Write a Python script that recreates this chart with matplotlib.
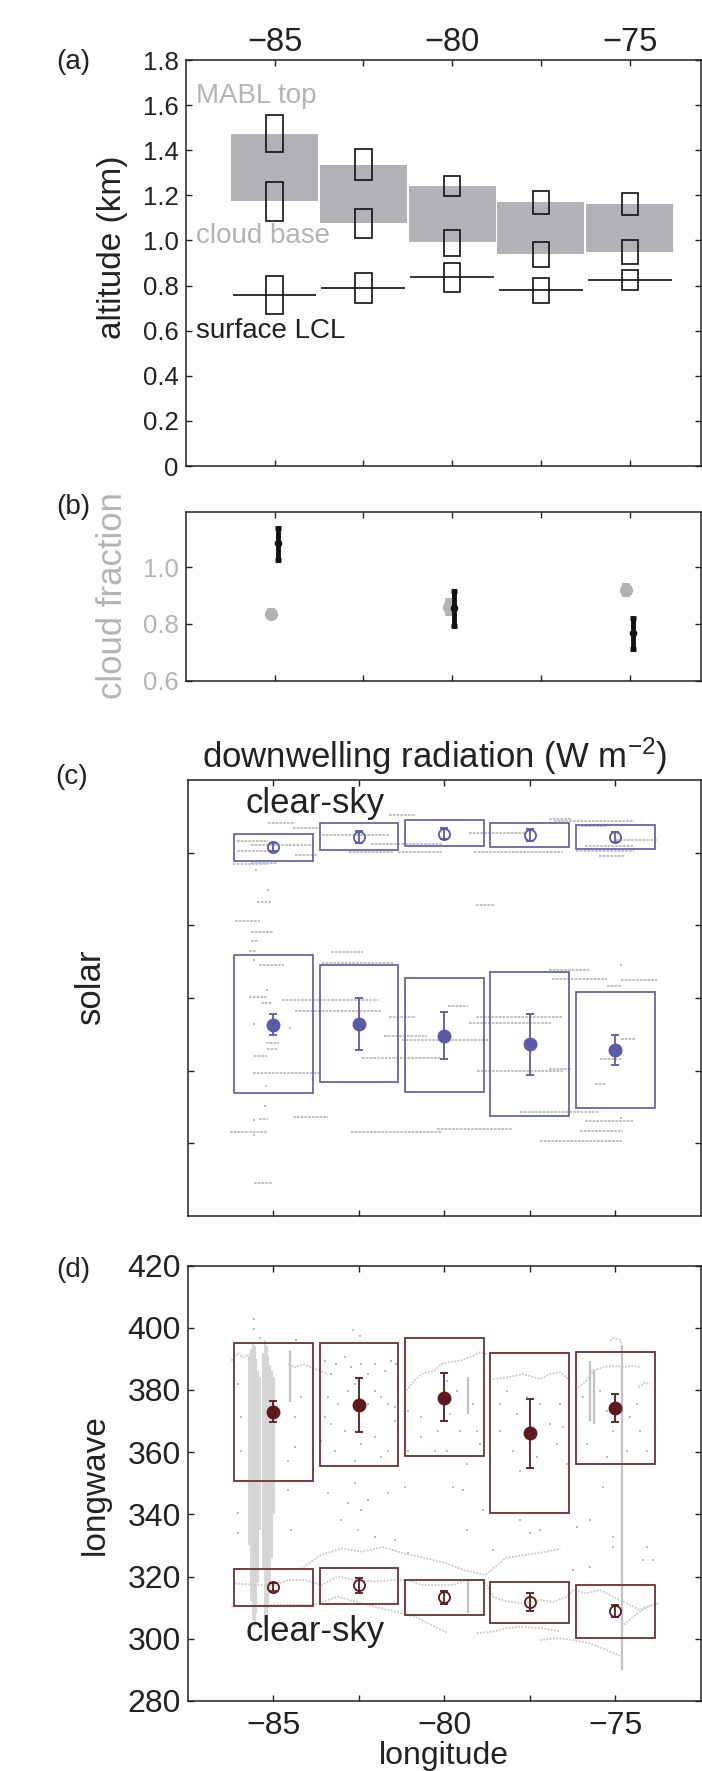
import matplotlib
matplotlib.use('Agg')
import matplotlib.pyplot as plt

plt.rcParams['font.family'] = ['Liberation Sans', 'DejaVu Sans']
plt.rcParams['mathtext.fontset'] = 'custom'
plt.rcParams['mathtext.rm'] = 'Liberation Sans'
plt.rcParams['mathtext.it'] = 'Liberation Sans:italic'
plt.rcParams['mathtext.bf'] = 'Liberation Sans:bold'

lon = [-85, -82.5, -80, -77.5, -75]

# (a) altitude (km)
layer_bot = [1.175, 1.077, 0.992, 0.941, 0.950]
layer_top = [1.470, 1.334, 1.241, 1.169, 1.160]
mabl_lo = [1.391, 1.266, 1.198, 1.119, 1.114]
mabl_hi = [1.555, 1.404, 1.287, 1.221, 1.210]
base_lo = [1.086, 1.012, 0.929, 0.884, 0.894]
base_hi = [1.259, 1.139, 1.048, 0.995, 1.002]
lcl_lo = [0.674, 0.721, 0.770, 0.723, 0.779]
lcl_hi = [0.844, 0.856, 0.898, 0.835, 0.869]
lcl_med = [0.760, 0.789, 0.836, 0.779, 0.825]

# (b) cloud fraction
cf_gray_lon = [-85.11, -80.1, -75.1]
cf_gray = [0.835, 0.860, 0.918]
cf_gray_err = [0.021, 0.032, 0.025]
cf_black_lon = [-84.9, -79.95, -74.91]
cf_black = [1.085, 0.855, 0.767]
cf_black_lo = [1.026, 0.791, 0.712]
cf_black_hi = [1.138, 0.916, 0.822]

# (c) downwelling solar
sw_clr_lo = [244.1, 251.7, 254.5, 253.8, 252.4]
sw_clr_hi = [263.2, 270.3, 272.4, 270.6, 269.0]
sw_clr_mean = [254.0, 261.1, 263.2, 262.3, 260.7]
sw_clr_err = [3.0, 4.1, 3.8, 4.0, 3.4]
sw_all_lo = [84.4, 92.0, 85.1, 68.7, 74.3]
sw_all_hi = [179.3, 172.4, 163.7, 167.6, 154.3]
sw_all_mean = [131.7, 132.2, 124.1, 118.2, 114.3]
sw_all_elo = [124.4, 114.5, 108.3, 97.0, 103.9]
sw_all_ehi = [139.3, 150.1, 140.2, 139.3, 124.8]

# raw solar samples (daily means drawn as short segments)
sw_seg_x0 = [-81.63, -85.15, -84.43, -76.93, -76.80, -76.01, -86.06, -85.67, -86.06, -84.37,
             -85.67, -86.19, -82.80, -81.36, -83.58, -82.15, -79.28, -79.14, -76.14, -75.49,
             -74.97, -75.88,
             -85.48, -86.13, -85.67, -85.67, -85.71, -85.41, -79.08, -83.32, -83.58, -85.71,
             -85.37, -84.76, -84.37, -81.63, -81.76, -81.23, -82.41, -79.08, -79.28, -79.88,
             -76.95, -76.86, -74.84, -75.23, -74.84, -75.46, -75.59, -85.61, -85.58, -85.22,
             -85.19, -79.04, -76.95, -84.43, -86.26, -82.73, -80.22, -77.80, -75.88, -76.04,
             -77.21, -85.58, -85.41]
sw_seg_x1 = [-80.84, -84.37, -83.71, -76.27, -74.45, -75.23, -85.15, -83.84, -84.89, -83.71,
             -84.89, -85.15, -81.49, -80.06, -81.63, -80.06, -77.58, -76.53, -74.45, -74.71,
             -73.79, -74.45,
             -85.08, -85.38, -85.02, -85.44, -85.50, -84.69, -78.56, -82.38, -81.49, -85.18,
             -85.05, -81.95, -81.86, -80.82, -80.52, -78.69, -80.12, -76.57, -76.86, -79.30,
             -75.78, -75.23, -73.79, -74.84, -74.42, -74.84, -75.27, -83.67, -85.18, -84.85,
             -84.86, -76.53, -76.27, -83.39, -85.18, -80.06, -78.03, -75.49, -74.45, -74.77,
             -74.80, -85.02, -85.15]
sw_seg_y = [275.9, 270.6, 267.1, 273.3, 271.7, 268.3, 257.9, 255.6, 251.0, 248.7,
            243.0, 242.5, 250.3, 250.3, 262.5, 256.3, 263.7, 250.3, 251.0, 248.0,
            258.6, 254.5,
            215.9, 203.0, 195.6, 189.0, 182.1, 172.6, 214.3, 181.6, 173.8, 150.6,
            146.4, 148.3, 140.9, 137.2, 123.5, 121.4, 108.5, 136.6, 132.9, 144.6,
            169.2, 163.0, 162.5, 158.6, 121.8, 108.0, 90.6, 98.2, 110.1, 119.3,
            114.7, 99.5, 101.2, 68.0, 57.9, 57.5, 59.5, 71.3, 65.5, 58.6,
            51.7, 22.3, 66.9]
sw_dot_x = [-85.19, -84.51, -85.57, -85.23, -85.24, -85.57, -85.58, -85.50, -85.15, -85.58,
            -74.84, -74.82]
sw_dot_y = [155.6, 129.4, 132.0, 89.4, 75.9, 66.0, 55.6, 238.4, 224.6, 175.9,
            172.9, 67.0]

# (d) downwelling longwave
lw_clr_lo = [310.5, 311.3, 307.8, 305.2, 300.4]
lw_clr_hi = [322.5, 322.8, 318.8, 318.4, 317.4]
lw_clr_mean = [316.6, 317.2, 313.3, 311.8, 309.0]
lw_clr_elo = [315.3, 314.6, 311.3, 309.0, 307.1]
lw_clr_ehi = [317.9, 319.6, 315.3, 314.6, 310.9]
lw_all_lo = [350.8, 355.5, 358.7, 340.5, 356.2]
lw_all_hi = [395.2, 395.0, 396.6, 391.8, 392.3]
lw_all_mean = [373.0, 375.2, 377.5, 366.1, 374.3]
lw_all_elo = [369.6, 366.5, 370.0, 355.0, 369.7]
lw_all_ehi = [376.5, 383.9, 385.4, 377.2, 378.6]

# raw longwave samples: stationary periods (vertical streaks)
lw_band_x = [-85.72, -85.65, -85.60, -85.55, -85.50, -85.45, -85.38, -85.30, -85.25, -85.20,
             -85.15, -85.10, -85.04, -84.97]
lw_band_top = [391.0, 393.0, 395.0, 394.0, 390.0, 386.0, 384.0, 392.0, 396.0, 394.0,
               391.0, 388.0, 386.0, 384.0]
lw_band_bot = [330.0, 312.0, 306.0, 304.0, 308.0, 318.0, 335.0, 322.0, 304.0, 306.0,
               310.0, 316.0, 326.0, 340.0]
lw_line_x = [-84.52, -79.32, -79.32, -75.74, -75.62, -74.81]
lw_line_top = [392.5, 384.0, 318.9, 389.4, 386.8, 394.2]
lw_line_bot = [376.0, 372.3, 308.2, 370.1, 369.2, 290.0]

# raw longwave samples: ship tracks
lw_tr1_x = [-86.23, -86.04, -85.89, -85.70]
lw_tr1_y = [389.4, 391.8, 390.5, 391.5]
lw_tr2_x = [-84.57, -84.38, -84.14, -83.89, -83.65, -83.40]
lw_tr2_y = [388.3, 387.3, 388.3, 387.3, 386.2, 385.1]
lw_tr3_x = [-81.11, -80.87, -80.67, -80.48, -80.28, -80.09, -79.89, -79.54, -79.15, -78.96, -78.76]
lw_tr3_y = [379.8, 383.0, 385.1, 385.7, 386.2, 388.3, 388.9, 389.4, 391.0, 392.1, 391.5]
lw_tr4_x = [-78.57, -78.18, -77.69, -77.20, -76.91, -76.62, -76.42, -76.32]
lw_tr4_y = [383.5, 384.0, 385.1, 383.5, 385.1, 385.7, 384.0, 383.0]
lw_tr5_x = [-76.08, -75.84, -75.64, -75.35, -75.06, -74.76, -74.47, -74.28]
lw_tr5_y = [380.8, 383.0, 386.2, 387.3, 387.8, 387.3, 387.8, 387.3]
lw_tr6_x = [-74.32, -74.13, -73.98]
lw_tr6_y = [380.8, 382.4, 381.9]
lw_hook_x = [-75.15, -75.06, -74.86, -74.81]
lw_hook_y = [395.8, 396.7, 396.1, 394.2]
lw_ctr1_x = [-84.2, -83.6, -83.0, -82.4, -81.8, -81.2, -80.6, -80.0, -79.4, -78.8, -78.2, -77.6, -77.0, -76.6]
lw_ctr1_y = [322.5, 327.0, 329.0, 328.0, 329.5, 327.5, 326.0, 324.5, 322.0, 320.5, 326.0, 327.0, 328.0, 329.0]
lw_ctr2_x = [-86.13, -85.55, -84.96, -84.57, -84.09, -83.60, -83.11, -82.62, -82.04, -81.45, -81.06,
             -80.67, -80.09, -79.74, -79.35, -78.86, -78.57, -78.18, -77.69, -77.20, -76.81, -76.42,
             -76.23, -75.84, -75.45, -75.06, -74.67, -74.28, -73.89]
lw_ctr2_y = [317.8, 317.3, 317.3, 318.9, 318.9, 317.3, 320.0, 318.9, 318.4, 318.9, 318.9,
             317.3, 317.3, 317.3, 318.9, 318.9, 313.5, 312.0, 311.4, 312.5, 311.9, 313.5,
             315.7, 314.6, 315.7, 313.5, 311.4, 309.3, 310.9]
lw_ctr3_x = [-86.23, -85.06, -83.86, -83.11, -82.43, -81.65, -80.87, -80.28, -79.89]
lw_ctr3_y = [310.3, 310.9, 310.9, 313.5, 311.4, 309.3, 307.1, 303.9, 301.8]
lw_ctr4_x = [-79.05, -78.57, -78.18, -77.79, -77.20, -76.81, -76.62]
lw_ctr4_y = [301.8, 302.3, 303.4, 303.9, 303.4, 302.8, 302.3]
lw_ctr5_x = [-77.20, -76.71, -76.23, -75.74, -75.25, -74.81]
lw_ctr5_y = [299.6, 300.2, 299.6, 298.5, 296.4, 294.3]
lw_ctr6_x = [-74.81, -74.47, -74.08, -73.74]
lw_ctr6_y = [303.9, 307.1, 310.3, 311.4]

# raw longwave samples: scattered
lw_dot_x = [-83.50, -83.31, -83.16, -82.92, -82.72, -82.43, -82.23, -82.04, -81.75, -81.55, -81.40,
            -83.40, -83.11, -82.82, -82.62, -82.23, -82.04, -81.84, -81.65, -81.45, -83.31, -82.92,
            -82.43, -82.04, -81.65, -83.21, -82.62, -81.84, -81.45, -83.50, -83.60, -81.06, -80.67,
            -80.19, -80.67, -81.06, -80.28, -86.04, -85.94, -84.38, -84.38, -84.57, -85.94, -84.18,
            -79.93, -79.64, -79.83, -79.54, -79.15, -79.05, -78.96, -79.93, -79.35, -78.37, -78.18,
            -77.88, -77.59, -77.20, -76.91, -76.62, -76.52, -78.37, -77.98, -77.30, -76.71, -76.42,
            -77.79, -75.93, -75.45, -75.25, -75.06, -74.57, -74.37, -74.28, -74.67, -74.08, -75.84,
            -75.25,
            -83.40, -83.01, -82.82, -82.62, -82.53, -82.43, -82.23, -82.04, -81.65, -81.45, -81.16,
            -81.06, -86.04, -86.04, -84.48, -84.57, -79.74, -79.44, -79.35, -78.86, -78.57, -77.79,
            -77.49, -77.20, -76.13, -75.74, -75.35, -75.06, -74.08, -73.89, -74.18, -75.06, -75.74,
            -76.23, -85.58, -85.57, -85.40, -84.34, -82.66, -82.47]
lw_dot_y = [389.4, 385.1, 388.3, 390.5, 387.3, 388.3, 385.1, 388.3, 386.2, 389.4, 388.3,
            377.6, 375.5, 379.8, 381.9, 375.5, 379.8, 377.6, 375.5, 374.4, 369.1, 366.9,
            362.6, 364.8, 360.5, 360.5, 357.3, 358.3, 370.1, 371.2, 363.7, 373.3, 371.2,
            366.9, 364.8, 360.5, 360.5, 381.9, 371.2, 371.2, 361.5, 357.3, 360.5, 377.6,
            383.0, 379.8, 372.3, 366.9, 375.5, 366.9, 362.6, 360.5, 356.2, 375.5, 379.8,
            372.3, 377.6, 375.5, 369.1, 375.5, 368.0, 366.9, 360.5, 358.3, 362.6, 356.2,
            354.0, 377.6, 379.8, 373.3, 366.9, 371.2, 375.5, 366.9, 360.5, 360.5, 362.6,
            358.3,
            346.8, 338.2, 343.5, 350.0, 335.0, 341.4, 344.6, 332.8, 346.8, 331.8, 348.9,
            327.5, 340.3, 333.9, 335.0, 347.8, 348.9, 347.8, 335.0, 341.4, 328.5, 338.2,
            333.9, 335.0, 336.0, 338.2, 348.9, 332.8, 329.6, 325.3, 325.3, 329.6, 323.2,
            322.1, 402.7, 399.6, 396.6, 396.2, 399.3, 397.4]

W, H = 702, 1771
fig = plt.figure(figsize=(W / 100, H / 100), dpi=100)


def rect(l, t, r, b):
    return [l / W, 1 - b / H, (r - l) / W, (b - t) / H]


def ftext(x, y, s, **kw):
    fig.text(x / W, 1 - y / H, s, **kw)


gray_box = '#b1b2b5'
gray_txt = '#b4b4b6'
raw_gray = '#bdbdbd'
blue = '#5a5aa6'
dred = '#5c1a1c'
bred = '#6e3030'
ink = '#222222'

ax_a = fig.add_axes(rect(185.8, 60, 700.7, 466))
ax_b = fig.add_axes(rect(185.8, 511.7, 700.7, 680.7))
ax_c = fig.add_axes(rect(188, 780.3, 700.7, 1215.7))
ax_d = fig.add_axes(rect(188, 1265.5, 700.7, 1701))

for ax in (ax_a, ax_b, ax_c, ax_d):
    for sp in ax.spines.values():
        sp.set_linewidth(1.1)
        sp.set_color(ink)
    ax.tick_params(direction='in', top=True, right=True, length=4, width=1, color=ink)
    ax.set_xticks([-85, -82.5, -80, -77.5, -75])

# ---- (a)
ax_a.bar(lon, [t - b for t, b in zip(layer_top, layer_bot)], width=2.45, bottom=layer_bot,
         color=gray_box, edgecolor='none', zorder=1)
for lo_, hi_ in ((mabl_lo, mabl_hi), (base_lo, base_hi), (lcl_lo, lcl_hi)):
    ax_a.bar(lon, [h - l for h, l in zip(hi_, lo_)], width=0.46, bottom=lo_,
             fill=False, edgecolor='#111111', linewidth=1.2, zorder=3)
ax_a.hlines(lcl_med, [x - 1.18 for x in lon], [x + 1.18 for x in lon],
            color='#111111', linewidth=1.2, zorder=2)
ax_a.set_xlim(-87.5, -73.0)
ax_a.set_ylim(0, 1.8)
ax_a.set_yticks([0, 0.2, 0.4, 0.6, 0.8, 1.0, 1.2, 1.4, 1.6, 1.8])
ax_a.set_yticklabels(['0', '0.2', '0.4', '0.6', '0.8', '1.0', '1.2', '1.4', '1.6', '1.8'])
ax_a.set_xticklabels(['\u221285', '', '\u221280', '', '\u221275'])
ax_a.tick_params(axis='y', labelsize=18.5, pad=5, labelcolor=ink)
ax_a.tick_params(axis='x', labeltop=True, labelbottom=False, labelsize=23.5, pad=1.5,
                 labelcolor=ink)
ftext(196, 96, 'MABL top', color=gray_txt, fontsize=20, ha='left', va='center')
ftext(196, 236, 'cloud base', color=gray_txt, fontsize=20, ha='left', va='center')
ftext(196, 331, 'surface LCL', color=ink, fontsize=20, ha='left', va='center')
ftext(113, 247, 'altitude (km)', color=ink, fontsize=24, rotation=90,
      ha='center', va='center')
ftext(73, 62, '(a)', color=ink, fontsize=20, ha='center', va='center')

# ---- (b)
ax_b.errorbar(cf_gray_lon, cf_gray, yerr=cf_gray_err, fmt='o', color=gray_box, ms=8.5,
              elinewidth=5.5, capsize=0, zorder=2)
ax_b.errorbar(cf_black_lon, cf_black,
              yerr=[[m - l for m, l in zip(cf_black, cf_black_lo)],
                    [h - m for h, m in zip(cf_black_hi, cf_black)]],
              fmt='o', color='#111111', ms=4.5, elinewidth=3.5, capsize=2.5, capthick=3.5,
              zorder=3)
ax_b.set_xlim(-87.5, -73.0)
ax_b.set_ylim(0.6, 1.195)
ax_b.set_yticks([0.6, 0.8, 1.0])
ax_b.set_yticklabels(['0.6', '0.8', '1.0'])
ax_b.tick_params(axis='y', labelsize=18.5, pad=5, labelcolor=gray_txt)
ax_b.tick_params(axis='x', labelbottom=False)
ftext(113, 596, 'cloud fraction', color=gray_txt, fontsize=25, rotation=90,
      ha='center', va='center')
ftext(73, 507, '(b)', color=ink, fontsize=20, ha='center', va='center')

# ---- (c)
ax_c.hlines(sw_seg_y, sw_seg_x0, sw_seg_x1, color=raw_gray, linewidth=1.3,
            linestyle=(0, (1.5, 0.6)), zorder=1)
ax_c.plot(sw_dot_x, sw_dot_y, 's', color=raw_gray, ms=1.8, mew=0, zorder=1)
ax_c.bar(lon, [h - l for h, l in zip(sw_clr_hi, sw_clr_lo)], width=2.3, bottom=sw_clr_lo,
         fill=False, edgecolor=blue, linewidth=1.2, zorder=2)
ax_c.bar(lon, [h - l for h, l in zip(sw_all_hi, sw_all_lo)], width=2.3, bottom=sw_all_lo,
         fill=False, edgecolor=blue, linewidth=1.2, zorder=2)
ax_c.errorbar(lon, sw_clr_mean, yerr=sw_clr_err, fmt='o', mfc='none', mec=blue, color=blue,
              ms=8, mew=1.3, elinewidth=1.3, capsize=3, capthick=1.3, zorder=3)
ax_c.errorbar(lon, sw_all_mean,
              yerr=[[m - l for m, l in zip(sw_all_mean, sw_all_elo)],
                    [h - m for h, m in zip(sw_all_ehi, sw_all_mean)]],
              fmt='o', color=blue, ms=9, elinewidth=1.3, capsize=3, capthick=1.3, zorder=3)
ax_c.set_xlim(-87.5, -72.5)
ax_c.set_ylim(0, 300)
ax_c.set_yticks([50, 100, 150, 200, 250])
ax_c.tick_params(labelleft=False, labelbottom=False)
ax_c.set_title('downwelling radiation (W m$^{\u22122}$)', fontsize=25, color=ink, pad=9,
               x=0.482)
ftext(246, 803, 'clear-sky', color=ink, fontsize=25, ha='left', va='center')
ftext(90, 986, 'solar', color=ink, fontsize=25, rotation=90, ha='center', va='center')
ftext(72, 777, '(c)', color=ink, fontsize=20, ha='center', va='center')

# ---- (d)
ax_d.vlines(lw_band_x, lw_band_bot, lw_band_top, color='#d3d3d3', linewidth=1.5,
            alpha=0.9, zorder=1)
ax_d.vlines(lw_line_x, lw_line_bot, lw_line_top, color='#c2c2c2', linewidth=1.6, zorder=1)
for tx, ty in ((lw_tr1_x, lw_tr1_y), (lw_tr2_x, lw_tr2_y), (lw_tr3_x, lw_tr3_y),
               (lw_tr4_x, lw_tr4_y), (lw_tr5_x, lw_tr5_y), (lw_tr6_x, lw_tr6_y),
               (lw_hook_x, lw_hook_y), (lw_ctr1_x, lw_ctr1_y), (lw_ctr2_x, lw_ctr2_y),
               (lw_ctr3_x, lw_ctr3_y), (lw_ctr4_x, lw_ctr4_y), (lw_ctr5_x, lw_ctr5_y),
               (lw_ctr6_x, lw_ctr6_y)):
    ax_d.plot(tx, ty, color='#c9c9c9', linewidth=1.3, linestyle=(0, (1, 0.8)), zorder=1)
ax_d.plot(lw_dot_x, lw_dot_y, 's', color='#bdbdbd', ms=1.6, mew=0, zorder=1)
ax_d.bar(lon, [h - l for h, l in zip(lw_clr_hi, lw_clr_lo)], width=2.3, bottom=lw_clr_lo,
         fill=False, edgecolor=bred, linewidth=1.3, zorder=2)
ax_d.bar(lon, [h - l for h, l in zip(lw_all_hi, lw_all_lo)], width=2.3, bottom=lw_all_lo,
         fill=False, edgecolor=bred, linewidth=1.3, zorder=2)
ax_d.errorbar(lon, lw_clr_mean,
              yerr=[[m - l for m, l in zip(lw_clr_mean, lw_clr_elo)],
                    [h - m for h, m in zip(lw_clr_ehi, lw_clr_mean)]],
              fmt='o', mfc='none', mec=dred, color=dred, ms=8, mew=1.3,
              elinewidth=1.3, capsize=3, capthick=1.3, zorder=3)
ax_d.errorbar(lon, lw_all_mean,
              yerr=[[m - l for m, l in zip(lw_all_mean, lw_all_elo)],
                    [h - m for h, m in zip(lw_all_ehi, lw_all_mean)]],
              fmt='o', color=dred, ms=9, elinewidth=1.3, capsize=3, capthick=1.3, zorder=3)
ax_d.set_xlim(-87.5, -72.5)
ax_d.set_ylim(280, 420)
ax_d.set_yticks([280, 300, 320, 340, 360, 380, 400, 420])
ax_d.set_xticklabels(['\u221285', '', '\u221280', '', '\u221275'])
ax_d.tick_params(axis='both', labelsize=23, labelcolor=ink)
ax_d.tick_params(axis='y', pad=5)
ax_d.tick_params(axis='x', pad=7)
ax_d.set_xlabel('longitude', fontsize=23, color=ink, labelpad=0)
ftext(246, 1631, 'clear-sky', color=ink, fontsize=25, ha='left', va='center')
ftext(95, 1485, 'longwave', color=ink, fontsize=24, rotation=90, ha='center', va='center')
ftext(73, 1270, '(d)', color=ink, fontsize=20, ha='center', va='center')

fig.savefig('out.png', dpi=100)
